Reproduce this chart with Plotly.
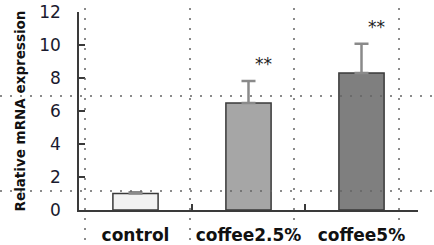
import plotly.graph_objects as go

categories = ["control", "coffee2.5%", "coffee5%"]
means = [1.0, 6.48, 8.3]
errors = [0.08, 1.34, 1.78]
bar_colors = ["#f2f2f2", "#a6a6a6", "#7f7f7f"]
significance = ["", "**", "**"]
y_ticks = [0, 2, 4, 6, 8, 10, 12]

fig = go.Figure()
fig.add_trace(go.Bar(
    x=categories, y=means,
    marker=dict(color=bar_colors, line=dict(color="#3a3a3a", width=1.5)),
    width=0.4,
    error_y=dict(type="data", array=errors, symmetric=False, arrayminus=[0, 0, 0],
                 color="#8a8a8a", thickness=2.5, width=7),
))

for c, m, e, s in zip(categories, means, errors, significance):
    if s:
        fig.add_annotation(x=c, y=m + e, text=s, showarrow=False,
                           xshift=15, yshift=5, yanchor="bottom",
                           font=dict(family="DejaVu Sans", size=17, color="#222222"))

# dotted guide lines present in the picture
PW, PH = 339, 198
dot = dict(color="#666666", width=1.5, dash="2px,8px")
for xp in [85, 190, 294, 399]:
    fig.add_shape(type="line", xref="paper", yref="paper",
                  x0=(xp - 79) / PW, x1=(xp - 79) / PW,
                  y0=(210 - 250) / PH, y1=(210 - 5) / PH, line=dot)
for yp in [96, 191]:
    fig.add_shape(type="line", xref="paper", yref="paper",
                  x0=-79 / PW, x1=(434 - 79) / PW,
                  y0=(210 - yp) / PH, y1=(210 - yp) / PH, line=dot)

fig.update_layout(
    width=434, height=245,
    margin=dict(l=79, r=16, t=12, b=35, autoexpand=False),
    paper_bgcolor="white", plot_bgcolor="white",
    showlegend=False,
    xaxis=dict(
        automargin=False,
        showline=True, linecolor="#3a3a3a", linewidth=1.5,
        ticks="inside", tickcolor="#3a3a3a", ticklen=6, tickwidth=1.5,
        tickson="boundaries", tickangle=0,
        tickfont=dict(family="DejaVu Sans", size=17, color="#111111", weight="bold"),
        ticklabelstandoff=9,
        showgrid=False,
    ),
    yaxis=dict(
        automargin=False,
        range=[0, 12], tickvals=y_ticks,
        showline=True, linecolor="#3a3a3a", linewidth=1.5,
        ticks="inside", tickcolor="#3a3a3a", ticklen=6, tickwidth=1.5,
        tickfont=dict(family="DejaVu Sans", size=17, color="#1a1a2e"),
        ticklabelstandoff=13, ticklabeloverflow="allow",
        showgrid=False, zeroline=False,
        title=dict(text="Relative mRNA expression", standoff=10,
                   font=dict(family="DejaVu Sans", size=13.5, color="#111111", weight="bold")),
    ),
)

fig.write_html("out.html", config={"displayModeBar": False},
               post_script="document.body.style.margin='0';")
